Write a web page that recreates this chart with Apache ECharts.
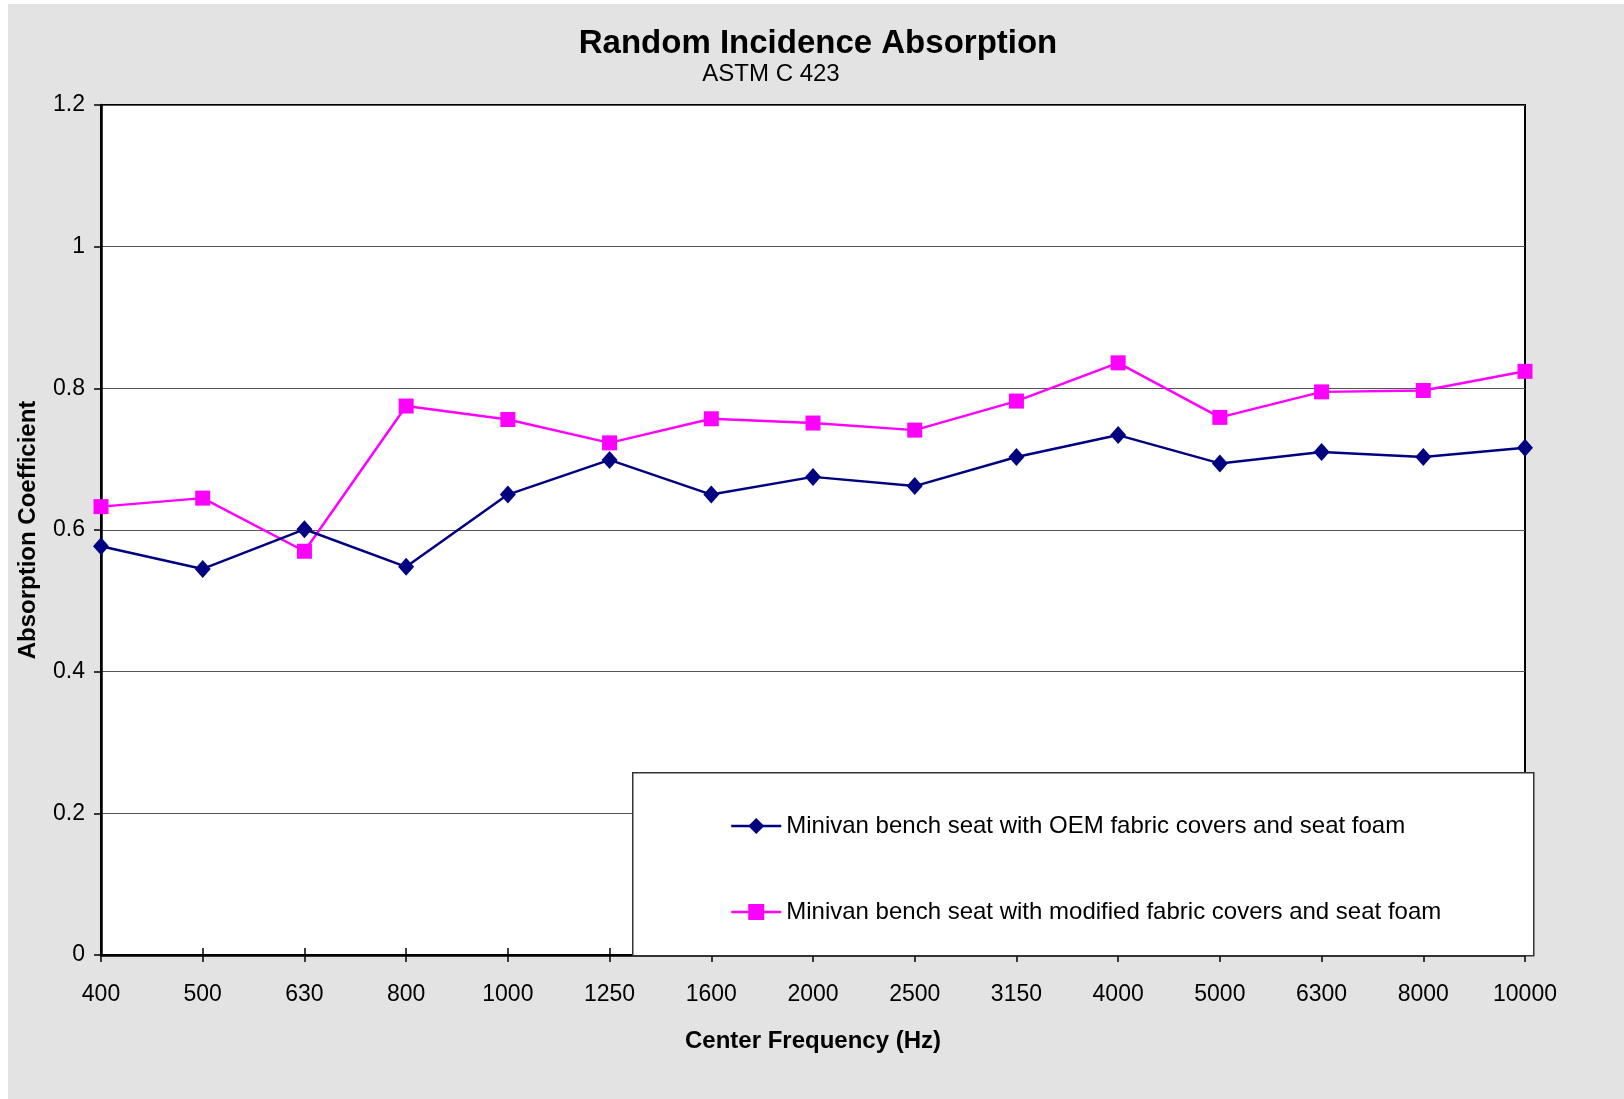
<!DOCTYPE html>
<html>
<head>
<meta charset="utf-8">
<script src="https://cdn.jsdelivr.net/npm/echarts@6/dist/echarts.min.js"></script>
<style>
html,body{margin:0;padding:0;background:#ffffff;}
#chart{position:absolute;left:8px;top:4px;width:1616px;height:1095px;}
</style>
</head>
<body>
<div id="chart"></div>
<script>
var categories = ['400','500','630','800','1000','1250','1600','2000','2500','3150','4000','5000','6300','8000','10000'];
var oemValues = [0.577,0.545,0.601,0.548,0.650,0.699,0.650,0.675,0.662,0.703,0.734,0.694,0.710,0.703,0.716];
var modifiedValues = [0.633,0.645,0.570,0.775,0.756,0.723,0.757,0.751,0.741,0.782,0.836,0.759,0.795,0.797,0.824];
var seriesNames = ['Minivan bench seat with OEM fabric covers and seat foam','Minivan bench seat with modified fabric covers and seat foam'];
var yTicks = {min:0, max:1.2, interval:0.2};

var font = 'Liberation Sans, Arial, sans-serif';
var chart = echarts.init(document.getElementById('chart'));
var ox = 8, oy = 4;
chart.setOption({
  backgroundColor: '#e3e3e3',
  animation: false,
  title: [
    {text:'Random Incidence Absorption', left:813-ox, top:22-oy, textAlign:'center',
     textStyle:{fontFamily:font, fontSize:33, fontWeight:'bold', color:'#000'}},
    {text:'ASTM C 423', left:766-ox, top:57-oy, textAlign:'center',
     textStyle:{fontFamily:font, fontSize:24, fontWeight:'normal', color:'#000'}}
  ],
  grid: {left:100-ox, top:105-oy, right:99, bottom:144, show:true,
         backgroundColor:'#ffffff', borderColor:'#000', borderWidth:2},
  xAxis: [
    {type:'category', data:categories, boundaryGap:false, position:'bottom',
     axisLine:{show:true, lineStyle:{color:'#000', width:2.5}},
     axisTick:{show:true, alignWithLabel:true, length:7, lineStyle:{color:'#000', width:1.5}},
     axisLabel:{fontFamily:font, fontSize:23, color:'#000', margin:28},
     splitLine:{show:false},
     name:'Center Frequency (Hz)', nameLocation:'middle', nameGap:74,
     nameTextStyle:{fontFamily:font, fontSize:24, fontWeight:'bold', color:'#000'}},
    {type:'category', data:categories, boundaryGap:false, position:'bottom',
     axisLine:{show:false},
     axisTick:{show:true, inside:true, length:7, lineStyle:{color:'#000', width:1.5}},
     axisLabel:{show:false}, splitLine:{show:false}}
  ],
  yAxis: {type:'value', min:yTicks.min, max:yTicks.max, interval:yTicks.interval,
     axisLine:{show:true, lineStyle:{color:'#000', width:2.5}},
     axisTick:{show:true, length:7, lineStyle:{color:'#000', width:1.5}},
     axisLabel:{fontFamily:font, fontSize:23, color:'#000', margin:16,
       formatter:function(v){return String(Math.round(v*10)/10);}},
     splitLine:{show:true, lineStyle:{color:'#555', width:1}},
     name:'Absorption Coefficient', nameLocation:'middle', nameGap:61,
     nameTextStyle:{fontFamily:font, fontSize:24, fontWeight:'bold', color:'#000'}},
  legend: {
    orient:'vertical', left:725-ox, top:809-oy, itemGap:62, itemWidth:50, itemHeight:20,
    textStyle:{fontFamily:font, fontSize:24, color:'#000'},
    lineStyle:{width:2.5},
    data: seriesNames, z:20
  },
  graphic: [
    {type:'rect', left:632-ox, top:772-oy, z:10,
     shape:{width:901, height:183}, style:{fill:'#ffffff', stroke:'#333', lineWidth:1.5}}
  ],
  series: [
    {name:seriesNames[0], type:'line', data:oemValues, xAxisIndex:0,
     symbol:'diamond', symbolSize:[16,18], lineStyle:{color:'#000080', width:2.5},
     itemStyle:{color:'#000080'}, z:3},
    {name:seriesNames[1], type:'line', data:modifiedValues, xAxisIndex:0,
     symbol:'rect', symbolSize:15, lineStyle:{color:'#ff00ff', width:2.5},
     itemStyle:{color:'#ff00ff'}, z:2}
  ]
});
</script>
</body>
</html>
